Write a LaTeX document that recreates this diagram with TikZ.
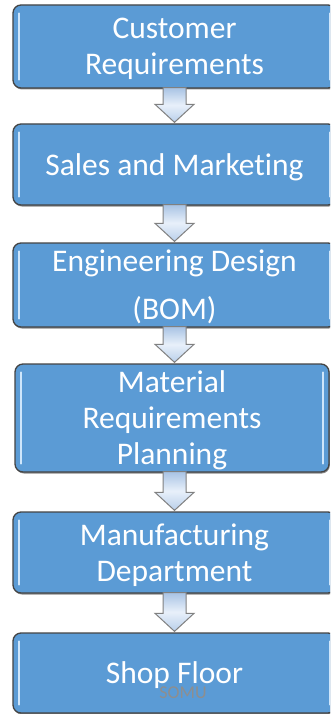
\documentclass[tikz,border=0pt]{standalone}
\usepackage{fontspec}
\setmainfont{Carlito}[Ligatures={NoCommon}]
\usetikzlibrary{calc,shadows}
\definecolor{boxblue}{HTML}{5B9BD5}
\definecolor{boxedge}{HTML}{444444}
\definecolor{hilite}{HTML}{CFE6FB}
\definecolor{arrtop}{HTML}{A8C3E4}
\definecolor{arrmid}{HTML}{E8F0FA}
\definecolor{arrbot}{HTML}{B9CFEA}
\definecolor{arredge}{HTML}{808080}
\definecolor{wmark}{HTML}{8E8E8E}
\tikzset{
  flowbox/.style={draw=boxedge, line width=1.3pt, fill=boxblue, rounded corners=8pt,
    inner sep=0pt, align=center, text=white, text depth=0pt,
    font=\fontsize{31.5}{36}\selectfont,
    drop shadow={shadow xshift=0.8pt, shadow yshift=-1.5pt, opacity=0.45, fill=black}},
  hline/.style={draw=hilite, line width=2pt, line cap=round},
  flowarrow/.style={draw=arredge, line width=1pt, line join=miter,
    top color=arrtop, bottom color=arrbot, middle color=arrmid},
}
\newcommand{\boxhl}[1]{%
  \draw[hline] ($(#1.north west)+(7,-9)$) -- ($(#1.south west)+(7,9)$);
  \draw[hline] ($(#1.north east)+(-7,-9)$) -- ($(#1.south east)+(-7,9)$);}
\newcommand{\flowarr}[2]{%
  \path[flowarrow] let \p1=(#1.south), \p2=(#2.north) in
    (174.5-11.5, \y1+1) -- (174.5+11.5, \y1+1) -- (174.5+11.5, \y2+19)
    -- (174.5+19.5, \y2+19) -- (174.5, \y2+1) -- (174.5-19.5, \y2+19)
    -- (174.5-11.5, \y2+19) -- cycle;}
\begin{document}
\begin{tikzpicture}[x=1pt,y=1pt]
\useasboundingbox (0,-714) rectangle (330,0);
\clip (0,-714) rectangle (330,0);
\fill[white] (0,-714) rectangle (330,0);
\node[flowbox, minimum width=323, minimum height=83] (b1) at (174.5,-46.5) {Customer\\Requirements};
\node[flowbox, minimum width=323, minimum height=81] (b2) at (174.5,-164.5) {Sales and Marketing};
\node[flowbox, minimum width=323, minimum height=84] (b3) at (174.5,-285) {Engineering Design\\[12pt](BOM)};
\node[flowbox, minimum width=314, minimum height=108] (b4) at (172,-418) {Material\\Requirements\\Planning};
\node[flowbox, minimum width=323, minimum height=81] (b5) at (174.5,-552.5) {Manufacturing\\Department};
\node[flowbox, minimum width=323, minimum height=80] (b6) at (174.5,-673) {Shop Floor};
\foreach \b in {b1,b2,b3,b4,b5,b6} {\boxhl{\b}}
\flowarr{b1}{b2}
\flowarr{b2}{b3}
\flowarr{b3}{b4}
\flowarr{b4}{b5}
\flowarr{b5}{b6}
\node[text=wmark, font=\fontsize{18}{20}\selectfont, inner sep=0pt] (wm) at (183,-693) {SOMU};
\end{tikzpicture}
\end{document}
